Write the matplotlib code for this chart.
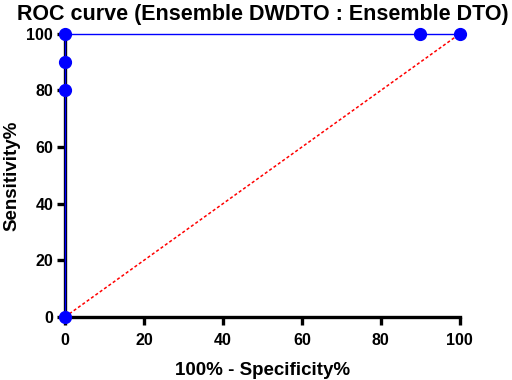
import matplotlib
matplotlib.use("Agg")
import matplotlib.pyplot as plt

plt.rcParams["font.family"] = ["Liberation Sans", "DejaVu Sans"]

# ROC points (100% - specificity%, sensitivity%)
fpr = [0, 0, 0, 0, 90, 100]
tpr = [0, 80, 90, 100, 100, 100]
ref_x = [0, 100]
ref_y = [0, 100]
ticks = [0, 20, 40, 60, 80, 100]

fig = plt.figure(figsize=(5.12, 3.80), dpi=100)
ax = fig.add_axes([0.127, 0.166, 0.771, 0.745])

ax.plot(ref_x, ref_y, color="red", linestyle=(0, (2, 1.5)), linewidth=1.1, zorder=2)
ax.plot(fpr, tpr, color="blue", linewidth=1.0, marker="o", markersize=8.5,
        clip_on=False, zorder=4)

ax.set_xlim(0, 100)
ax.set_ylim(0, 100)
ax.set_xticks(ticks)
ax.set_yticks(ticks)
for s in ("top", "right"):
    ax.spines[s].set_visible(False)
for s in ("left", "bottom"):
    ax.spines[s].set_linewidth(2.4)
    ax.spines[s].set_zorder(3)
ax.tick_params(direction="out", length=5.5, width=2.4, labelsize=11.5, pad=3)
ax.tick_params(axis="x", pad=6)
for lbl in ax.get_xticklabels() + ax.get_yticklabels():
    lbl.set_fontweight("bold")

ax.set_xlabel("100% - Specificity%", fontsize=13.5, fontweight="bold", labelpad=10)
ax.set_ylabel("Sensitivity%", fontsize=13.5, fontweight="bold", labelpad=4)
ax.set_title("ROC curve (Ensemble DWDTO : Ensemble DTO)", fontsize=15.5,
             fontweight="bold", pad=10, x=0.5)

fig.savefig("out.png", dpi=100)
